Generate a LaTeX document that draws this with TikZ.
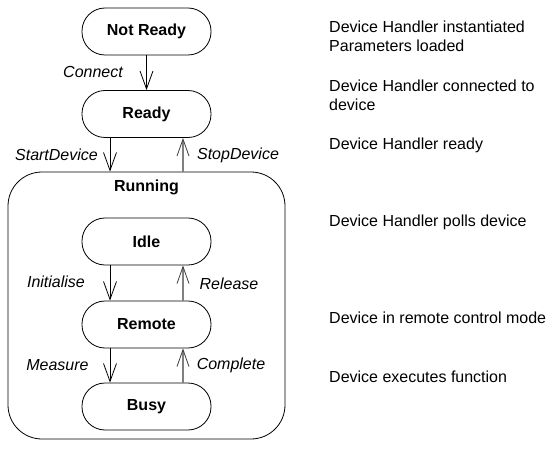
\documentclass[tikz,border=0pt]{standalone}
\usepackage{fontspec}
\setmainfont{Liberation Sans}
\usetikzlibrary{arrows.meta}
\begin{document}
\begin{tikzpicture}[x=1pt,y=1pt,
  every node/.style={font=\fontsize{16}{19}\selectfont, inner sep=0pt},
  state/.style={draw, line width=0.8pt, minimum width=129pt, minimum height=47pt,
    rounded corners=23pt, font=\fontsize{16}{19}\selectfont\bfseries},
  superstate/.style={draw, line width=0.8pt, minimum width=277pt, minimum height=267pt,
    rounded corners=34pt},
  trans/.style={font=\fontsize{16}{19}\selectfont\itshape},
  note/.style={anchor=west, align=left},
  down/.style={line width=0.8pt, -{Straight Barb[length=18pt,width=13pt,line width=0.8pt]}},
  up/.style={line width=1.2pt, draw=black!50, -{Straight Barb[length=17pt,width=12pt,line width=0.8pt,color=black!75]}}
]
\useasboundingbox (0,0) rectangle (552,448);

% outer state and its title
\node[superstate] (run) at (146.5,142.5) {};
\node[font=\fontsize{16}{19}\selectfont\bfseries] (runlbl) at (146.5,261) {Running};

% states
\node[state] (nr) at (146.5,416.5) {Not Ready};
\node[state] (rd) at (146.5,334) {Ready};
\node[state] (idle) at (146.5,206.5) {Idle};
\node[state] (rem) at (146.5,123.5) {Remote};
\node[state] (busy) at (146.5,41.5) {Busy};

% transitions
\draw[down] (nr.south) -- (rd.north);
\draw[down] ([xshift=-36.5pt]rd.south) -- ([xshift=-36.5pt]rd.south |- run.north);
\draw[up] ([xshift=36.5pt]rd.south |- run.north) -- ([xshift=36.5pt]rd.south);
\draw[down] ([xshift=-36.5pt]idle.south) -- ([xshift=-36.5pt]rem.north);
\draw[up] ([xshift=36.5pt]rem.north) -- ([xshift=36.5pt]idle.south);
\draw[down] ([xshift=-36.5pt]rem.south) -- ([xshift=-36.5pt]busy.north);
\draw[up] ([xshift=36.5pt]busy.north) -- ([xshift=36.5pt]rem.south);

% transition labels
\node[trans] (lconnect) at (93,376) {Connect};
\node[trans] (lstart) at (56.5,293) {StartDevice};
\node[trans] (lstop) at (238,293) {StopDevice};
\node[trans] (linit) at (56,166) {Initialise};
\node[trans] (lrel) at (229,164) {Release};
\node[trans] (lmeas) at (57.5,83) {Measure};
\node[trans] (lcomp) at (231,83) {Complete};

% descriptions
\node[note] (d1) at (329,412) {Device Handler instantiated\\Parameters loaded};
\node[note] (d2) at (329,353) {Device Handler connected to\\device};
\node[note] (d3) at (329,303) {Device Handler ready};
\node[note] (d4) at (329,226) {Device Handler polls device};
\node[note] (d5) at (329,130) {Device in remote control mode};
\node[note] (d6) at (329,71) {Device executes function};
\end{tikzpicture}
\end{document}
